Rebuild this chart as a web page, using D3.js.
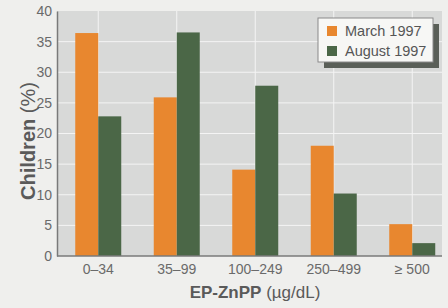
<!DOCTYPE html>
<html>
<head>
<meta charset="utf-8">
<script src="https://cdn.jsdelivr.net/npm/d3@7"></script>
<style>
  body { margin: 0; background: #efefed; }
  svg { display: block; font-family: "Liberation Sans Narrow", "Arial Narrow", "Liberation Sans", sans-serif; }
</style>
</head>
<body>
<div id="chart"></div>
<script>
// data
const categories = ["0\u201334", "35\u201399", "100\u2013249", "250\u2013499", "\u2265 500"];
const march1997 = [36.4, 25.9, 14.1, 18.0, 5.2];
const august1997 = [22.8, 36.5, 27.8, 10.2, 2.1];
const seriesNames = ["March 1997", "August 1997"];
const yTicks = [0, 5, 10, 15, 20, 25, 30, 35, 40];

const width = 448, height = 308;
const plot = { left: 57, right: 442, top: 11, bottom: 256 };
const colors = ["#e8872f", "#4b6747"];

const svg = d3.select("#chart").append("svg")
  .attr("width", width)
  .attr("height", height);

const x = d3.scaleBand()
  .domain(categories)
  .range([59, 451.5])
  .padding(0);

const y = d3.scaleLinear()
  .domain([0, 40])
  .range([plot.bottom, plot.top]);

const barW = 23;

// plot background
svg.append("rect")
  .attr("x", plot.left)
  .attr("y", plot.top)
  .attr("width", plot.right - plot.left)
  .attr("height", plot.bottom - plot.top)
  .attr("fill", "#d8d9d8");

// grid lines
svg.append("g")
  .selectAll("line")
  .data(yTicks.filter((d) => d > 0 && d < 40))
  .join("line")
  .attr("x1", plot.left)
  .attr("x2", plot.right)
  .attr("y1", (d) => y(d))
  .attr("y2", (d) => y(d))
  .attr("stroke", "#f4f4f4")
  .attr("stroke-width", 1);

svg.append("g")
  .selectAll("line")
  .data(categories)
  .join("line")
  .attr("x1", (d) => x(d) + x.bandwidth() / 2)
  .attr("x2", (d) => x(d) + x.bandwidth() / 2)
  .attr("y1", plot.top)
  .attr("y2", plot.bottom)
  .attr("stroke", "#f4f4f4")
  .attr("stroke-width", 1);

// bars
const series = [march1997, august1997];
series.forEach((vals, i) => {
  svg.append("g")
    .selectAll("rect")
    .data(vals)
    .join("rect")
    .attr("x", (d, j) => x(categories[j]) + x.bandwidth() / 2 - barW + i * barW)
    .attr("y", (d) => y(d))
    .attr("width", barW)
    .attr("height", (d) => y(0) - y(d))
    .attr("fill", colors[i]);
});

// axes
const yAxis = svg.append("g")
  .attr("transform", `translate(${plot.left},0)`)
  .call(d3.axisLeft(y).tickValues(yTicks).tickSize(0).tickPadding(5));
yAxis.select(".domain").attr("stroke", "#7a7a7a").attr("stroke-width", 1.5);
yAxis.selectAll("text")
  .attr("fill", "#6a6a6a")
  .style("font-size", "14px");

svg.append("line")
  .attr("x1", plot.left)
  .attr("x2", plot.right)
  .attr("y1", plot.bottom)
  .attr("y2", plot.bottom)
  .attr("stroke", "#7a7a7a")
  .attr("stroke-width", 1.5);

const xAxis = svg.append("g")
  .attr("transform", `translate(0,${plot.bottom})`)
  .call(d3.axisBottom(x).tickSize(0).tickPadding(8));
xAxis.select(".domain").remove();
xAxis.selectAll("text")
  .attr("fill", "#6a6a6a")
  .style("font-size", "14px");

// axis titles
const yTitle = svg.append("text")
  .attr("transform", "translate(35,141) rotate(-90)")
  .attr("text-anchor", "middle")
  .attr("fill", "#5a5a5a")
  .style("font-size", "20px");
yTitle.append("tspan").attr("font-weight", "bold").text("Children");
yTitle.append("tspan").text(" (%)");

const xTitle = svg.append("text")
  .attr("x", 255)
  .attr("y", 298)
  .attr("text-anchor", "middle")
  .attr("fill", "#5a5a5a")
  .style("font-size", "17px");
xTitle.append("tspan").attr("font-weight", "bold").text("EP-ZnPP");
xTitle.append("tspan").text(" (\u00b5g/dL)");

// legend
const legend = svg.append("g").attr("transform", "translate(318,18)");
legend.append("rect")
  .attr("x", 6).attr("y", 6)
  .attr("width", 115).attr("height", 44)
  .attr("fill", "#5a5f58");
legend.append("rect")
  .attr("x", 0).attr("y", 0)
  .attr("width", 115).attr("height", 44)
  .attr("fill", "#f7f7f5")
  .attr("stroke", "#8a8a8a")
  .attr("stroke-width", 1);

const items = legend.selectAll("g.item")
  .data(seriesNames)
  .join("g")
  .attr("class", "item")
  .attr("transform", (d, i) => `translate(9,${8 + i * 20})`);
items.append("rect")
  .attr("width", 10).attr("height", 10)
  .attr("fill", (d, i) => colors[i]);
items.append("text")
  .attr("x", 18)
  .attr("y", 10)
  .attr("fill", "#555")
  .style("font-size", "14.5px")
  .text((d) => d);
</script>
</body>
</html>
